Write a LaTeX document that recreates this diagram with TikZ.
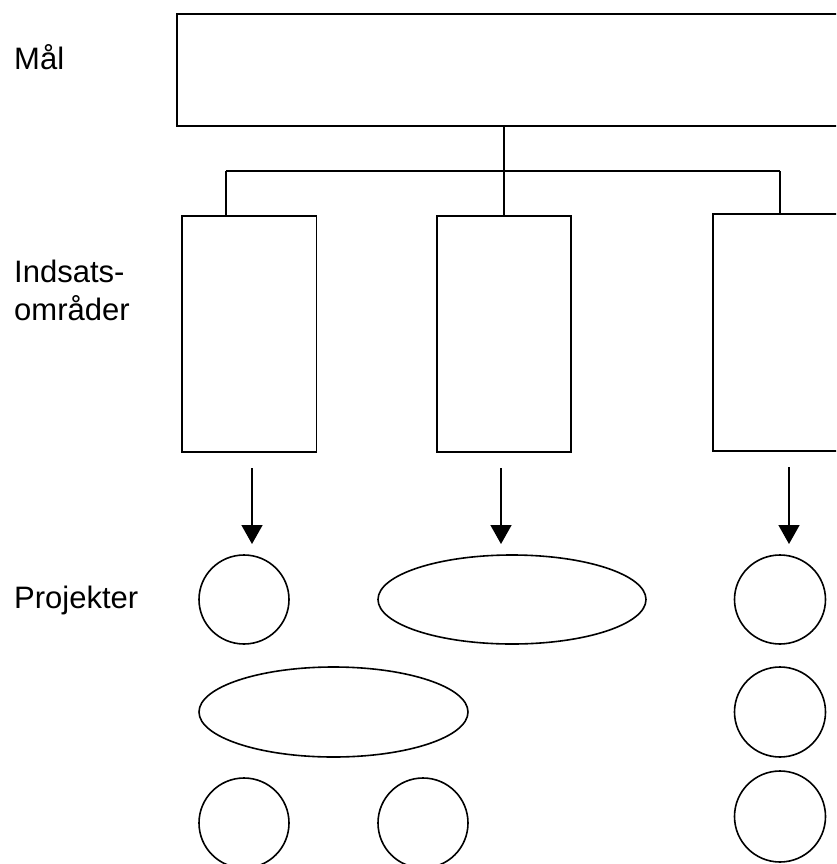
\documentclass[tikz,border=0pt]{standalone}
\usepackage{fontspec}
\setmainfont{Liberation Sans}
\usetikzlibrary{arrows.meta,shapes.geometric}
\begin{document}
\begin{tikzpicture}[x=1pt,y=-1pt,
  lw/.style={line width=1.6pt},
  box/.style={draw,lw,rectangle,inner sep=0pt},
  proj/.style={draw,lw,ellipse,inner sep=0pt},
  lbl/.style={font=\fontsize{31pt}{37pt}\selectfont,inner sep=0pt,anchor=base west},
  link/.style={lw},
  arr/.style={lw,-{Triangle[width=21pt,length=19pt]}}]
\useasboundingbox (0,0) rectangle (836,864);
\clip (0,0) rectangle (836,864);
\fill[white] (0,0) rectangle (836,864);
% labels
\node[lbl] (tmal) at (14,70) {Mål};
\node[lbl] (tind) at (14,282) {Indsats-};
\node[lbl] (tomr) at (14,320) {områder};
\node[lbl] (tpro) at (14,608) {Projekter};
% boxes
\node[box,minimum width=673pt,minimum height=112pt] (goal) at (513.5,70) {};
\node[box,minimum width=134.5pt,minimum height=236pt] (a1) at (249.25,334) {};
\node[box,minimum width=134pt,minimum height=236pt] (a2) at (504,334) {};
\node[box,minimum width=137pt,minimum height=237pt] (a3) at (781.5,332.5) {};
% tree connectors
\coordinate (j) at (504,171);
\coordinate (jl) at (226,171);
\coordinate (jr) at (780,171);
\draw[link] (goal.south -| j) -- (j);
\draw[link] (jl) -- (jr);
\draw[link] (jl) -- (jl |- a1.north);
\draw[link] (j) -- (j |- a2.north);
\draw[link] (jr) -- (jr |- a3.north);
% projects
\node[proj,minimum width=90pt,minimum height=89pt] (p1) at (244,599.5) {};
\node[proj,minimum width=268pt,minimum height=89pt] (p2) at (512,599.5) {};
\node[proj,minimum width=91pt,minimum height=89pt] (p3) at (780,599.5) {};
\node[proj,minimum width=269pt,minimum height=90pt] (p4) at (333.5,712) {};
\node[proj,minimum width=91pt,minimum height=90pt] (p5) at (780,712) {};
\node[proj,minimum width=90pt,minimum height=90pt] (p6) at (244,823) {};
\node[proj,minimum width=90pt,minimum height=90pt] (p7) at (423,823) {};
\node[proj,minimum width=91pt,minimum height=91pt] (p8) at (780,816.5) {};
% arrows
\coordinate (s1) at (252,468); \coordinate (e1) at (252,544);
\coordinate (s2) at (501,468); \coordinate (e2) at (501,544);
\coordinate (s3) at (789,467); \coordinate (e3) at (789,544);
\draw[arr] (s1) -- (e1);
\draw[arr] (s2) -- (e2);
\draw[arr] (s3) -- (e3);
\end{tikzpicture}
\end{document}
